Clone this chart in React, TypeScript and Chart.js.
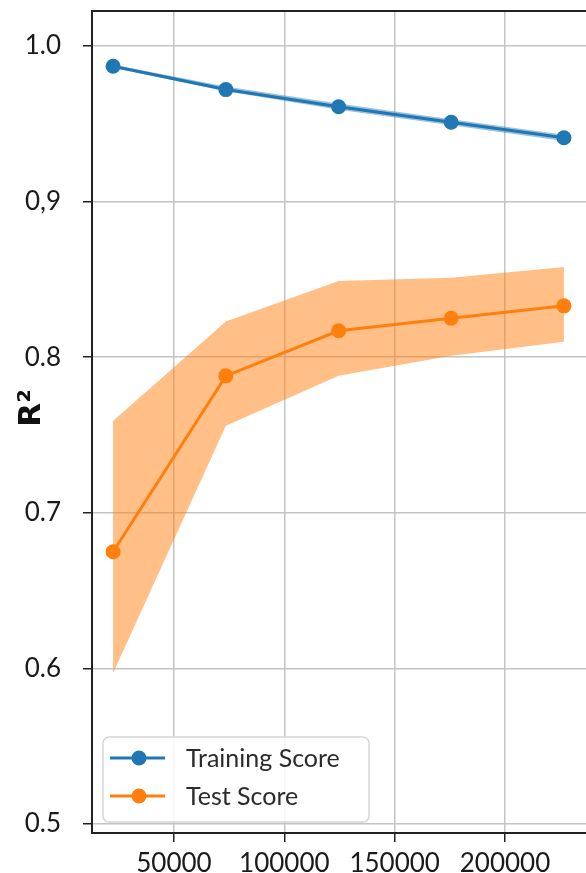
import React, { useEffect, useRef } from 'react';
import { Chart, registerables } from 'chart.js';

Chart.register(...registerables);

// ---- data ----
const trainSizes = [22400, 73500, 124600, 175600, 226700];
const trainMean = [0.987, 0.972, 0.961, 0.951, 0.941];
const trainUpper = [0.988, 0.974, 0.963, 0.953, 0.943];
const trainLower = [0.986, 0.971, 0.959, 0.949, 0.939];
const testMean = [0.675, 0.788, 0.817, 0.825, 0.833];
const testUpper = [0.759, 0.823, 0.849, 0.851, 0.858];
const testLower = [0.597, 0.756, 0.788, 0.801, 0.810];
const xTicks = [50000, 100000, 150000, 200000];
const yTicks = [0.5, 0.6, 0.7, 0.8, 0.9, 1.0];
const yTickLabels = ['0.5', '0.6', '0.7', '0.8', '0,9', '1.0'];
const seriesLabels = ['Training Score', 'Test Score'];
const yAxisTitle = 'R²';

const BLUE = '#1f77b4';
const ORANGE = '#ff7f0e';
const FONT = 'Lato';

const pts = (ys: number[]) => trainSizes.map((x, i) => ({ x, y: ys[i] }));

// stretch the plot area to the right edge of the canvas (the right spine is off-picture)
const stretchPlugin = {
  id: 'stretchRight',
  afterLayout(chart: any) {
    const ca = chart.chartArea;
    const d = chart.width - ca.right;
    if (d <= 0) return;
    ca.right += d;
    ca.width = ca.right - ca.left;
    const x = chart.scales.x;
    x.right += d;
    x.width += d;
    x.configure();
  },
};

const framePlugin = {
  id: 'frameAndLegend',
  afterDraw(chart: any) {
    const { ctx, chartArea: ca } = chart;
    ctx.save();
    // spines
    ctx.strokeStyle = '#222';
    ctx.lineWidth = 2;
    ctx.beginPath();
    ctx.moveTo(ca.right + 2, ca.top);
    ctx.lineTo(ca.left, ca.top);
    ctx.lineTo(ca.left, ca.bottom);
    ctx.lineTo(ca.right + 2, ca.bottom);
    ctx.stroke();

    // y-axis title
    ctx.save();
    ctx.translate(32, (ca.top + ca.bottom) / 2 - 14);
    ctx.rotate(-Math.PI / 2);
    ctx.fillStyle = '#111';
    ctx.font = `bold 31px 'DejaVu Sans'`;
    ctx.textAlign = 'center';
    ctx.textBaseline = 'middle';
    ctx.fillText(yAxisTitle, 0, 0);
    ctx.restore();

    // legend
    const bx = ca.left + 11;
    const bw = 266;
    const bh = 85;
    const by = ca.bottom - 11 - bh;
    const r = 6;
    ctx.beginPath();
    ctx.moveTo(bx + r, by);
    ctx.lineTo(bx + bw - r, by);
    ctx.arcTo(bx + bw, by, bx + bw, by + r, r);
    ctx.lineTo(bx + bw, by + bh - r);
    ctx.arcTo(bx + bw, by + bh, bx + bw - r, by + bh, r);
    ctx.lineTo(bx + r, by + bh);
    ctx.arcTo(bx, by + bh, bx, by + bh - r, r);
    ctx.lineTo(bx, by + r);
    ctx.arcTo(bx, by, bx + r, by, r);
    ctx.closePath();
    ctx.fillStyle = 'rgba(255,255,255,0.85)';
    ctx.fill();
    ctx.strokeStyle = '#d6d6d6';
    ctx.lineWidth = 1.5;
    ctx.stroke();

    const ds = chart.data.datasets;
    [0, 1].forEach((di, row) => {
      const d = ds[di];
      const cy = by + 21 + row * 38;
      ctx.strokeStyle = d.borderColor;
      ctx.lineWidth = 3;
      ctx.beginPath();
      ctx.moveTo(bx + 7, cy);
      ctx.lineTo(bx + 62, cy);
      ctx.stroke();
      ctx.fillStyle = d.borderColor;
      ctx.beginPath();
      ctx.arc(bx + 36, cy, 7.5, 0, Math.PI * 2);
      ctx.fill();
      ctx.fillStyle = '#2b2b2b';
      ctx.font = `25px ${FONT}`;
      ctx.textAlign = 'left';
      ctx.textBaseline = 'middle';
      ctx.fillText(d.label, bx + 83, cy + 1);
    });
    ctx.restore();
  },
};

export default function App() {
  const ref = useRef<HTMLCanvasElement>(null);

  useEffect(() => {
    document.body.style.margin = '0';
    document.body.style.overflow = 'hidden';
    if (!ref.current) return;
    const line = (label: string, data: number[], color: string) => ({
      label,
      data: pts(data),
      borderColor: color,
      backgroundColor: color,
      borderWidth: 3,
      pointRadius: 7.5,
      pointHoverRadius: 7.5,
      pointBorderWidth: 0,
      showLine: true,
      fill: false,
    });
    const band = (data: number[], color: string, fill: any) => ({
      label: '',
      data: pts(data),
      borderWidth: 0,
      borderColor: 'rgba(0,0,0,0)',
      backgroundColor: color,
      pointRadius: 0,
      showLine: true,
      fill,
    });
    const chart = new Chart(ref.current, {
      type: 'scatter',
      data: {
        datasets: [
          line(seriesLabels[0], trainMean, BLUE),
          line(seriesLabels[1], testMean, ORANGE),
          band(trainUpper, 'rgba(31,119,180,0.45)', 3),
          band(trainLower, 'rgba(31,119,180,0.45)', false),
          band(testUpper, 'rgba(255,127,14,0.5)', 5),
          band(testLower, 'rgba(255,127,14,0.5)', false),
        ] as any,
      },
      options: {
        animation: false,
        responsive: false,
        layout: { padding: { top: 11, right: 0, left: 0, bottom: 0 } },
        plugins: {
          legend: { display: false },
          tooltip: { enabled: false },
        },
        scales: {
          x: {
            type: 'linear',
            min: 12850,
            max: 236700,
            afterBuildTicks: (s: any) => {
              s.ticks = xTicks.map((v) => ({ value: v }));
            },
            afterFit: (s: any) => {
              s.height = 40;
              s.paddingLeft = 0;
              s.paddingRight = 0;
            },
            ticks: {
              callback: (v: any) => String(v),
              color: '#1a1a1a',
              font: { family: FONT, size: 26 },
              padding: 6,
              maxRotation: 0,
              autoSkip: false,
            },
            grid: {
              color: '#c4c4c4',
              lineWidth: 1.5,
              tickColor: '#222',
              tickLength: 9,
              tickWidth: 1.5,
            },
            border: { display: false },
          },
          y: {
            type: 'linear',
            min: 0.4942,
            max: 1.0225,
            afterBuildTicks: (s: any) => {
              s.ticks = yTicks.map((v) => ({ value: v }));
            },
            afterFit: (s: any) => {
              s.width = 92;
              s.paddingTop = 0;
              s.paddingBottom = 0;
            },
            ticks: {
              callback: (_v: any, i: number) => yTickLabels[i],
              color: '#1a1a1a',
              font: { family: FONT, size: 26 },
              padding: 22,
              autoSkip: false,
            },
            grid: {
              color: '#c4c4c4',
              lineWidth: 1.5,
              tickColor: '#222',
              tickLength: 9,
              tickWidth: 1.5,
            },
            border: { display: false },
          },
        },
      },
      plugins: [stretchPlugin, framePlugin],
    });
    return () => chart.destroy();
  }, []);

  return (
    <div style={{ width: 586, height: 873, overflow: 'hidden' }}>
      <canvas ref={ref} width={586} height={873} style={{ display: 'block' }} />
    </div>
  );
}
